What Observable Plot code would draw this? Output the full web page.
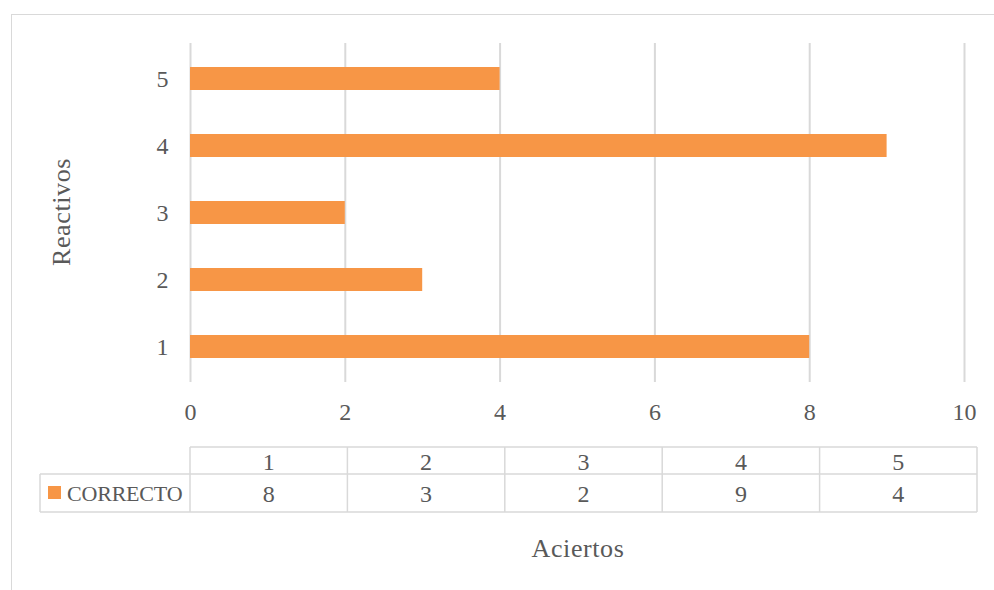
<!DOCTYPE html>
<html>
<head>
<meta charset="utf-8">
<script src="https://cdn.jsdelivr.net/npm/d3@7"></script>
<script src="https://cdn.jsdelivr.net/npm/@observablehq/plot@0.6"></script>
<style>
  html, body { margin: 0; padding: 0; background: #fff; overflow: hidden; }
  #wrap { position: relative; width: 994px; height: 590px; font-family: "Liberation Serif", serif; color: #595959; }
  #frame { position: absolute; left: 11px; top: 14px; width: 1000px; height: 600px; border: 1.5px solid #d9d9d9; box-sizing: border-box; }
  #chart { position: absolute; left: 0; top: 0; }
  #grid { position: absolute; left: 0; top: 0; }
  .cell { position: absolute; font-family: "Liberation Serif", "Times New Roman", serif !important; font-size: 24px; line-height: 1; white-space: nowrap; transform: translate(-50%, -50%); color: #595959; }
  .title { position: absolute; font-family: "Liberation Serif", serif; font-size: 26px; letter-spacing: 0.6px; white-space: nowrap; }
</style>
</head>
<body>
<div id="wrap">
  <div id="frame"></div>
  <div id="chart"></div>
  <svg id="grid" width="994" height="590"></svg>
  <div id="cells"></div>
  <div class="title" id="ytitle">Reactivos</div>
  <div class="title" id="xtitle">Aciertos</div>
</div>
<script>
// Reactivos (items) and number of correct answers per item
const reactivos = ["1", "2", "3", "4", "5"];
const aciertos = [8, 3, 2, 9, 4];
const serie = "CORRECTO";
const xTicks = [0, 2, 4, 6, 8, 10];

const barColor = "#f79646";
const gridColor = "#d9d9d9";
const textColor = "#595959";
const font = "\"Liberation Serif\", serif";

const rows = reactivos.map((r, i) => ({reactivo: r, aciertos: aciertos[i]}));

const chart = Plot.plot({
  width: 994,
  height: 590,
  marginLeft: 190,
  marginRight: 30,
  marginTop: 43,
  marginBottom: 208,
  style: {fontFamily: font, fontSize: "24px", color: textColor, background: "transparent", overflow: "visible"},
  x: {domain: [0, 10], label: null},
  y: {domain: reactivos.slice().reverse(), paddingInner: 0.66, paddingOuter: 0.33, label: null},
  marks: [
    Plot.ruleX(xTicks, {stroke: gridColor, strokeWidth: 2, strokeOpacity: 1}),
    Plot.barX(rows, {x: "aciertos", y: "reactivo", fill: barColor}),
    Plot.axisX({ticks: xTicks, tickSize: 0, tickPadding: 20, label: null, fill: textColor}),
    Plot.axisY({tickSize: 0, tickPadding: 22, label: null, fill: textColor})
  ]
});
document.getElementById("chart").appendChild(chart);

// Data table under the chart: header row with items, value row with the series
const svg = d3.select("#grid");
const left = 190, right = 977, legendLeft = 40;
const yTop = 447, yMid = 474, yBot = 512;
const colW = (right - left) / reactivos.length;
const lines = svg.append("g").attr("stroke", gridColor).attr("stroke-width", 1.5).attr("fill", "none");
lines.append("line").attr("x1", left).attr("x2", right).attr("y1", yTop).attr("y2", yTop);
lines.append("line").attr("x1", legendLeft).attr("x2", right).attr("y1", yMid).attr("y2", yMid);
lines.append("line").attr("x1", legendLeft).attr("x2", right).attr("y1", yBot).attr("y2", yBot);
lines.append("line").attr("x1", legendLeft).attr("x2", legendLeft).attr("y1", yMid).attr("y2", yBot);
d3.range(reactivos.length + 1).forEach(i => {
  lines.append("line").attr("x1", left + i * colW).attr("x2", left + i * colW).attr("y1", yTop).attr("y2", yBot);
});
svg.append("rect").attr("x", 48).attr("y", 486).attr("width", 13).attr("height", 13).attr("fill", barColor);

const cells = d3.select("#cells");
function cell(x, y, text) {
  return cells.append("div").attr("class", "cell")
    .style("left", x + "px").style("top", y + "px").text(text);
}
reactivos.forEach((r, i) => {
  cell(left + (i + 0.5) * colW, (yTop + yMid) / 2 + 1, r);
  cell(left + (i + 0.5) * colW, (yMid + yBot) / 2 + 1, aciertos[i]);
});
cell(67, (yMid + yBot) / 2 + 1, serie)
  .style("transform", "translate(0, -50%)").style("font-size", "22px").style("letter-spacing", "-0.2px");

// Axis titles
const yt = document.getElementById("ytitle");
yt.style.left = "62px"; yt.style.top = "212px";
yt.style.transform = "translate(-50%, -50%) rotate(-90deg)";
const xt = document.getElementById("xtitle");
xt.style.left = "578px"; xt.style.top = "549px";
xt.style.transform = "translate(-50%, -50%)";
</script>
</body>
</html>
